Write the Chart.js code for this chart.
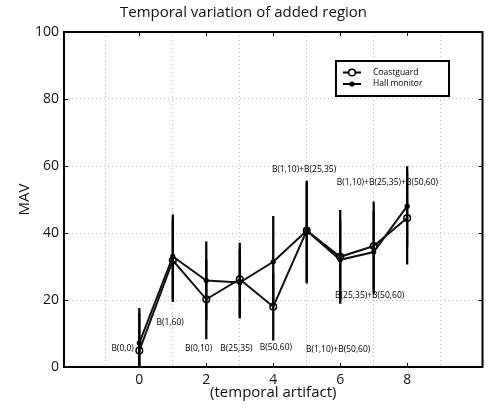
<!DOCTYPE html>
<html>
<head>
<meta charset="utf-8">
<script src="https://cdn.jsdelivr.net/npm/chart.js@4"></script>
<style>
  html, body { margin: 0; padding: 0; background: #fff; }
  #wrap { width: 488px; height: 408px; }
</style>
</head>
<body>
<div id="wrap"><canvas id="chart" width="488" height="408"></canvas></div>
<script>
// data
const xValues = [0, 1, 2, 3, 4, 5, 6, 7, 8];
const coastguard = [4.9, 31.8, 20.2, 26.2, 18.0, 40.7, 32.9, 36.1, 44.5];
const hallMonitor = [7.2, 33.0, 25.8, 25.2, 31.4, 40.7, 32.0, 34.3, 48.0];
const coastguardLow = [-7.5, 19.5, 8.4, 15.0, 8.0, 25.5, 19.0, 23.0, 30.7];
const coastguardHigh = [17.5, 44.0, 32.0, 37.0, 28.0, 55.5, 46.8, 49.3, 58.0];
const hallLow = [-2.0, 20.0, 14.2, 14.6, 17.8, 25.0, 19.5, 22.0, 36.0];
const hallHigh = [16.0, 45.4, 37.4, 35.0, 45.0, 55.0, 44.0, 46.5, 59.8];

const xTicks = [0, 2, 4, 6, 8];
const yTicks = [0, 20, 40, 60, 80, 100];

const noteLabels = ["B(0,0)", "B(1,60)", "B(0,10)", "B(25,35)", "B(50,60)",
  "B(1,10)+B(25,35)", "B(1,10)+B(50,60)", "B(25,35)+B(50,60)", "B(1,10)+B(25,35)+B(50,60)"];
const noteX = [-0.5, 0.92, 1.77, 2.9, 4.08, 4.92, 5.94, 6.88, 7.41];
const noteY = [5.4, 13.2, 5.4, 5.6, 5.7, 58.8, 5.3, 21.3, 55.1];

const seriesNames = ["Coastguard", "Hall monitor"];

const FONT = "'Open Sans', 'DejaVu Sans', sans-serif";

function pts(ys) {
  return xValues.map((x, i) => ({ x: x, y: ys[i] }));
}
function ranges(lo, hi) {
  return xValues.map((x, i) => ({ x: x, y: [lo[i], hi[i]] }));
}

// border, inward ticks, notes and legend box
const overlay = {
  id: 'overlay',
  afterDatasetsDraw(chart) {
    const ctx = chart.ctx;
    const a = chart.chartArea;
    const xs = chart.scales.x, ys = chart.scales.y;
    ctx.save();

    // text notes
    ctx.fillStyle = '#000';
    ctx.font = "8.5px " + FONT;
    ctx.textAlign = 'center';
    ctx.textBaseline = 'middle';
    noteLabels.forEach((t, i) => {
      ctx.fillText(t, xs.getPixelForValue(noteX[i]), ys.getPixelForValue(noteY[i]));
    });

    // inward tick marks
    ctx.strokeStyle = '#000';
    ctx.lineWidth = 1;
    xTicks.forEach(v => {
      const px = Math.round(xs.getPixelForValue(v)) + 0.5;
      ctx.beginPath();
      ctx.moveTo(px, a.bottom); ctx.lineTo(px, a.bottom - 4);
      ctx.moveTo(px, a.top); ctx.lineTo(px, a.top + 4);
      ctx.stroke();
    });
    yTicks.forEach(v => {
      const py = Math.round(ys.getPixelForValue(v)) + 0.5;
      ctx.beginPath();
      ctx.moveTo(a.left, py); ctx.lineTo(a.left + 4, py);
      ctx.moveTo(a.right, py); ctx.lineTo(a.right - 4, py);
      ctx.stroke();
    });

    // frame
    ctx.lineWidth = 2;
    ctx.strokeRect(a.left, a.top, a.right - a.left, a.bottom - a.top);

    // legend box
    const bx = 336, by = 61, bw = 113, bh = 35;
    ctx.fillStyle = '#fff';
    ctx.fillRect(bx, by, bw, bh);
    ctx.lineWidth = 2;
    ctx.strokeRect(bx, by, bw, bh);
    ctx.font = "8.5px " + FONT;
    ctx.textAlign = 'left';
    seriesNames.forEach((name, i) => {
      const ly = by + 11.5 + i * 11.5;
      ctx.strokeStyle = '#000';
      ctx.lineWidth = 2;
      ctx.beginPath();
      ctx.moveTo(bx + 7, ly); ctx.lineTo(bx + 25, ly);
      ctx.stroke();
      ctx.beginPath();
      if (i === 0) {
        ctx.arc(bx + 16, ly, 3.3, 0, Math.PI * 2);
        ctx.fillStyle = '#fff';
        ctx.fill();
        ctx.lineWidth = 1.5;
        ctx.stroke();
      } else {
        ctx.arc(bx + 16, ly, 2.6, 0, Math.PI * 2);
        ctx.fillStyle = '#000';
        ctx.fill();
      }
      ctx.fillStyle = '#000';
      ctx.fillText(name, bx + 37, ly);
    });
    ctx.restore();
  }
};

new Chart(document.getElementById('chart'), {
  type: 'line',
  data: {
    datasets: [
      {
        type: 'bar', label: 'cg err', data: ranges(coastguardLow, coastguardHigh),
        backgroundColor: '#000', barThickness: 1.6, grouped: false, order: 3
      },
      {
        type: 'bar', label: 'hm err', data: ranges(hallLow, hallHigh),
        backgroundColor: '#000', barThickness: 1.6, grouped: false, order: 3
      },
      {
        label: seriesNames[1], data: pts(hallMonitor),
        borderColor: '#111', borderWidth: 2, tension: 0,
        pointRadius: 2.6, pointBackgroundColor: '#000', pointBorderWidth: 0, order: 2
      },
      {
        label: seriesNames[0], data: pts(coastguard),
        borderColor: '#111', borderWidth: 2, tension: 0,
        pointRadius: 3.3, pointBackgroundColor: 'rgba(255,255,255,0)', pointBorderColor: '#000',
        pointBorderWidth: 1.5, order: 1
      }
    ]
  },
  options: {
    responsive: false,
    animation: false,
    layout: { padding: { left: 0, right: 1, top: 0, bottom: 0 } },
    plugins: {
      legend: { display: false },
      tooltip: { enabled: false },
      title: {
        display: true,
        text: 'Temporal variation of added region',
        color: '#111',
        font: { family: FONT, size: 15, weight: 'normal' },
        padding: { top: 4, bottom: 10 }
      }
    },
    scales: {
      x: {
        type: 'linear', min: -1, max: 9,
        afterBuildTicks: s => { s.ticks = xTicks.map(v => ({ value: v })); },
        afterFit: s => { s.height = 41; },
        ticks: { color: '#111', padding: 5, font: { family: FONT, size: 14 } },
        grid: { color: '#bbb', lineWidth: 1, drawTicks: false },
        border: { display: false, dash: [1, 3] },
        title: {
          display: true, text: '(temporal artifact)', color: '#111',
          font: { family: FONT, size: 15 }, padding: { top: 0, bottom: 6 }
        }
      },
      y: {
        min: 0, max: 100,
        afterBuildTicks: s => { s.ticks = yTicks.map(v => ({ value: v })); },
        afterFit: s => { s.width = 64; },
        ticks: { color: '#111', padding: 5, font: { family: FONT, size: 14 } },
        grid: { color: '#bbb', lineWidth: 1, drawTicks: false },
        border: { display: false, dash: [1, 3] },
        title: {
          display: true, text: 'MAV', color: '#111',
          font: { family: FONT, size: 15 }, padding: { top: 16, bottom: 0 }
        }
      }
    }
  },
  plugins: [overlay]
});
</script>
</body>
</html>
